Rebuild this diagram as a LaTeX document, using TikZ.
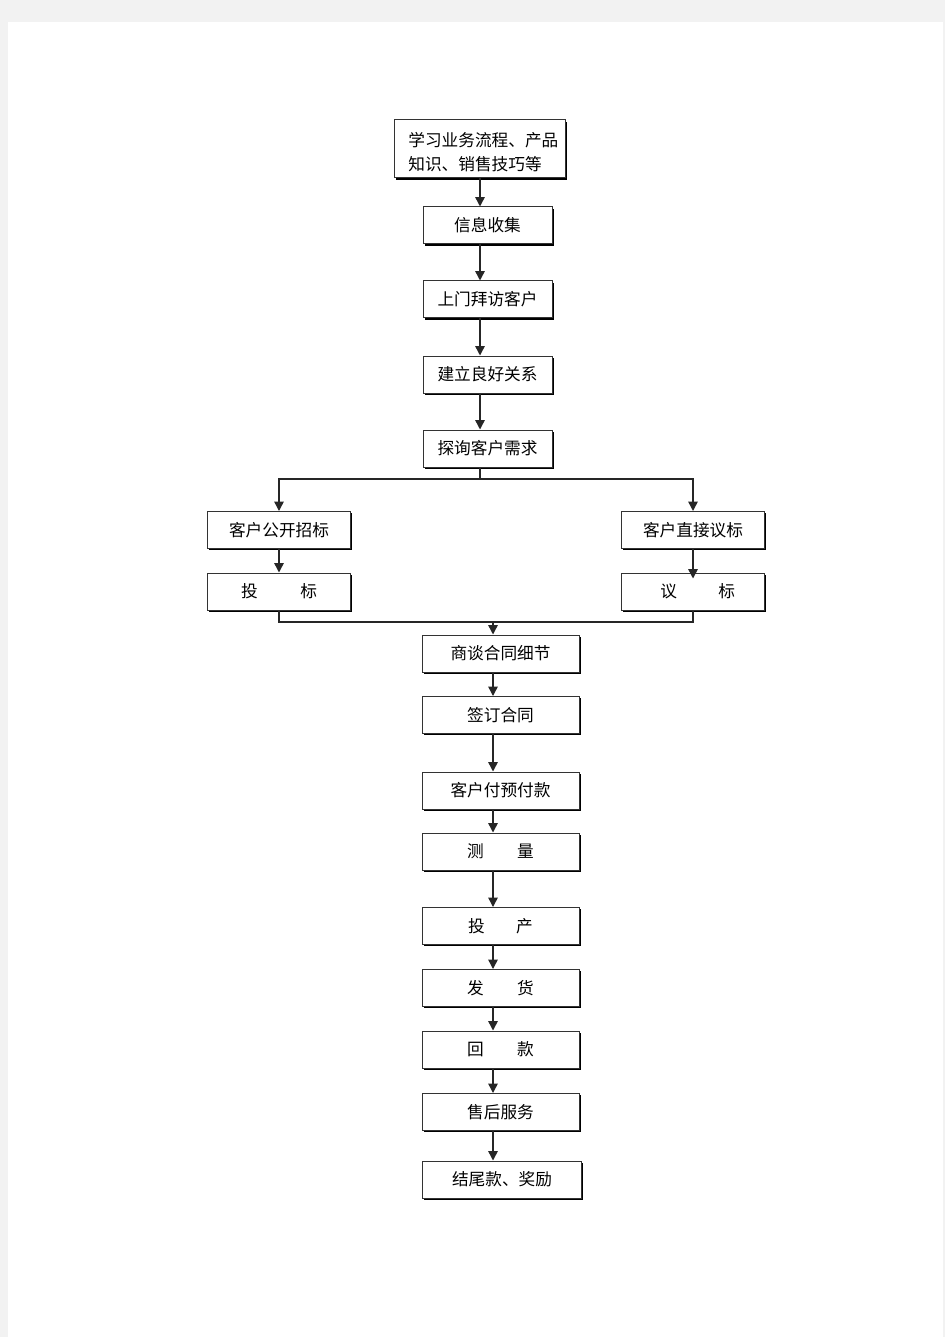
\documentclass[tikz,border=0pt]{standalone}
\usepackage{fontspec}
\newfontfamily\cjk{Noto Sans CJK SC}
\usetikzlibrary{arrows.meta,shadows}
\definecolor{pagegray}{HTML}{F2F2F2}
\begin{document}
\begin{tikzpicture}[x=0.75pt,y=-0.75pt,
  box/.style={draw=black!80,line width=0.75pt,fill=white,inner sep=0pt,
    font=\cjk\fontsize{12.5pt}{17.5pt}\selectfont,
    drop shadow={shadow xshift=1.3pt,shadow yshift=-1.3pt,fill=black,opacity=1}},
  up/.style={box,minimum width=129*0.75pt,minimum height=37*0.75pt},
  side/.style={box,minimum width=143*0.75pt,minimum height=37*0.75pt},
  low/.style={box,minimum width=157*0.75pt,minimum height=37*0.75pt},
  conn/.style={draw=black!85,line width=1.1pt},
  arr/.style={conn,-{Triangle[width=7pt,length=7pt]}}]
\useasboundingbox (0,0) rectangle (945,1337);
\fill[pagegray] (0,0) rectangle (945,1337);
\fill[white] (8,22) rectangle (943,1337);
% nodes
\node[box,minimum width=171*0.75pt,minimum height=58*0.75pt] (n0) at (479.5,149) {};
\node[inner sep=0pt,font=\cjk\fontsize{12.5pt}{17.5pt}\selectfont,align=left,text width=109pt]
  (n0t) at (481,152) {学习业务流程、产品\\知识、销售技巧等};
\node[up] (n1) at (487.5,225.5) {信息收集};
\node[up] (n2) at (487.5,299.5) {上门拜访客户};
\node[up] (n3) at (487.5,374.5) {建立良好关系};
\node[up] (n4) at (487.5,448.5) {探询客户需求};
\node[side] (a1) at (279,530) {客户公开招标};
\node[side] (a2) at (279,591.5) {投\hspace{32pt}标\hspace{9pt}};
\node[side] (b1) at (693,530) {客户直接议标};
\node[side] (b2) at (693,591.5) {\hspace{7pt}议\hspace{31pt}标};
\node[low] (c1) at (500.5,653.5) {商谈合同细节};
\node[low] (c2) at (500.5,715) {签订合同};
\node[low] (c3) at (500.5,790.5) {客户付预付款};
\node[low] (c4) at (500.5,851.5) {测\hspace{25pt}量};
\node[low] (c5) at (500.5,926) {投\hspace{23.5pt}产};
\node[low] (c6) at (500.5,988) {发\hspace{25pt}货};
\node[low] (c7) at (500.5,1049.5) {回\hspace{25pt}款};
\node[low] (c8) at (500.5,1112) {售后服务};
\node[low,minimum width=159*0.75pt] (c9) at (502,1179.5) {结尾款、奖励};
% connector coordinates
\coordinate (sx) at (480,0);
\coordinate (br) at (480,479);
\coordinate (lx) at (493,0);
\coordinate (jn) at (493,622);
% upper chain
\draw[arr] (n0.south -| sx) -- (n1.north -| sx);
\draw[arr] (n1.south -| sx) -- (n2.north -| sx);
\draw[arr] (n2.south -| sx) -- (n3.north -| sx);
\draw[arr] (n3.south -| sx) -- (n4.north -| sx);
\draw[conn] (n4.south -| sx) -- (br);
\draw[arr] (br) -| (a1.north);
\draw[arr] (br) -| (b1.north);
\draw[arr] (a1) -- (a2);
\draw[arr] (b1.south) -- ([yshift=-4.5pt]b2.north);
\draw[conn] (a2.south) |- (jn) -| (b2.south);
\draw[arr] (jn) -- (c1.north -| lx);
% lower chain
\draw[arr] (c1.south -| lx) -- (c2.north -| lx);
\draw[arr] (c2.south -| lx) -- (c3.north -| lx);
\draw[arr] (c3.south -| lx) -- (c4.north -| lx);
\draw[arr] (c4.south -| lx) -- (c5.north -| lx);
\draw[arr] (c5.south -| lx) -- (c6.north -| lx);
\draw[arr] (c6.south -| lx) -- (c7.north -| lx);
\draw[arr] (c7.south -| lx) -- (c8.north -| lx);
\draw[arr] (c8.south -| lx) -- (c9.north -| lx);
\end{tikzpicture}
\end{document}
